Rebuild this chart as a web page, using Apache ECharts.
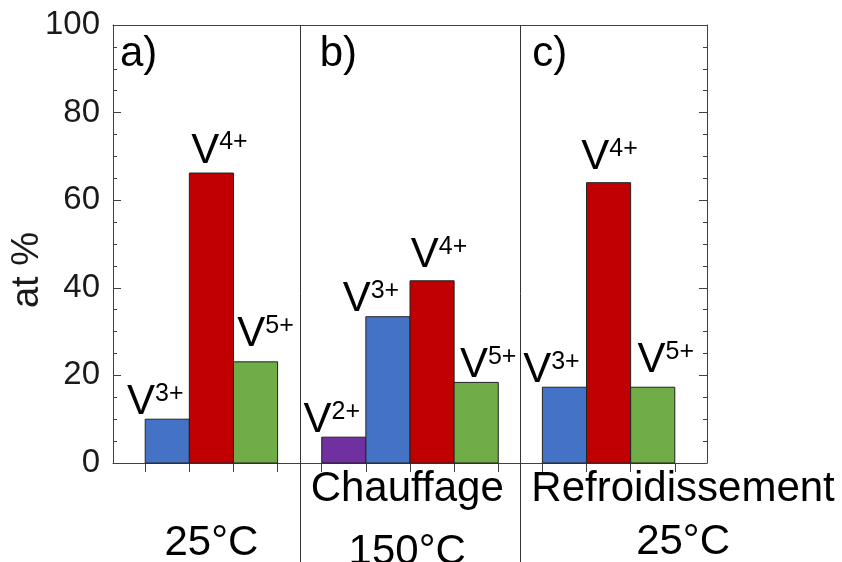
<!DOCTYPE html>
<html><head><meta charset="utf-8">
<script src="https://cdn.jsdelivr.net/npm/echarts@6/dist/echarts.min.js"></script>
<style>html,body{margin:0;padding:0;background:#fff}#c{width:842px;height:562px}</style>
</head><body><div id="c"></div>
<script>
// ---------- data ----------
const panelLetters = ['a)', 'b)', 'c)'];
const conditionNames = ['', 'Chauffage', 'Refroidissement'];
const temperatures = ['25°C', '150°C', '25°C'];
const ionsA = ['3+', '4+', '5+'];
const valuesA = [10.0, 66.2, 23.1];
const ionsB = ['2+', '3+', '4+', '5+'];
const valuesB = [5.9, 33.4, 41.6, 18.4];
const ionsC = ['3+', '4+', '5+'];
const valuesC = [17.3, 64.0, 17.3];
const yTickValues = [0, 20, 40, 60, 80, 100];
const yAxisTitle = 'at %';

// ---------- style ----------
const FONT = "'Liberation Sans', Arial, sans-serif";
const ionColors = {'2+': '#7030A0', '3+': '#4472C4', '4+': '#C00000', '5+': '#70AD47'};
const labelDxA = [-12, 8, 10], labelDyA = [2, 7, 12];
const labelDxB = [-12, -17, 7, 12], labelDyB = [2, 2, 10, 2];
const labelDxC = [-13, 1, 13], labelDyC = [2, 10, 12];
const letterDx = [7, 20, 12];

const panelIons = [ionsA, ionsB, ionsC];
const panelValues = [valuesA, valuesB, valuesC];
const panelDx = [labelDxA, labelDxB, labelDxC];
const panelDy = [labelDyA, labelDyB, labelDyC];

// build bar slots: one empty slot between panels
const bars = [];
const panelRanges = [];
let slot = 0;
panelIons.forEach((ions, p) => {
  const start = slot;
  ions.forEach((ion, i) => {
    bars.push({ x: slot + 0.5, v: panelValues[p][i], ion: ion, dx: panelDx[p][i], dy: panelDy[p][i] });
    slot += 1;
  });
  panelRanges.push([start, slot]);
  slot += 1;
});
const lastEdge = slot - 1;
const edgeTicks = [];
panelRanges.forEach(r => { for (let e = r[0]; e <= r[1]; e++) edgeTicks.push(e); });
const xPad = 0.73;

const chart = echarts.init(document.getElementById('c'), null, { renderer: 'canvas' });

function renderItem(params, api) {
  const b = bars[params.dataIndex];
  const tl = api.coord([api.value(0) - 0.5, api.value(1)]);
  const br = api.coord([api.value(0) + 0.5, 0]);
  const cx = (tl[0] + br[0]) / 2;
  return {
    type: 'group',
    children: [
      { type: 'rect', shape: { x: tl[0], y: tl[1], width: br[0] - tl[0], height: br[1] - tl[1] },
        style: { fill: ionColors[b.ion], stroke: '#222', lineWidth: 1 } },
      { type: 'text', x: cx + b.dx, y: tl[1] - b.dy + 6,
        style: {
          text: '{v|V}{s|' + b.ion + '}',
          align: 'center', verticalAlign: 'bottom',
          rich: {
            v: { fontSize: 42, fontFamily: FONT, fill: '#000', lineHeight: 42, verticalAlign: 'bottom' },
            s: { fontSize: 25, fontFamily: FONT, fill: '#000', lineHeight: 25, verticalAlign: 'top', padding: [0, 0, 28, 0] }
          }
        } }
    ]
  };
}

const axisLineStyle = { color: '#404040', width: 1 };
chart.setOption({
  animation: false,
  backgroundColor: '#fff',
  grid: { left: 113, right: 135, top: 25, bottom: 99, containLabel: false },
  xAxis: [
    { type: 'value', min: -xPad, max: lastEdge + xPad, position: 'bottom',
      axisLine: { show: true, onZero: false, lineStyle: axisLineStyle },
      axisTick: { show: true, inside: false, length: 9, customValues: edgeTicks, lineStyle: axisLineStyle },
      axisLabel: { show: false }, splitLine: { show: false } },
    { type: 'value', min: -xPad, max: lastEdge + xPad, position: 'top',
      axisLine: { show: true, onZero: false, lineStyle: axisLineStyle },
      axisTick: { show: false }, axisLabel: { show: false }, splitLine: { show: false } }
  ],
  yAxis: [
    { type: 'value', min: yTickValues[0], max: yTickValues[yTickValues.length - 1], interval: yTickValues[1] - yTickValues[0],
      position: 'left',
      axisLine: { show: true, onZero: false, lineStyle: axisLineStyle },
      axisTick: { show: true, inside: true, length: 8, lineStyle: axisLineStyle },
      minorTick: { show: true, splitNumber: 4, length: 4, lineStyle: axisLineStyle },
      axisLabel: { fontSize: 33, fontFamily: FONT, color: '#1a1a1a', margin: 13 },
      splitLine: { show: false }, minorSplitLine: { show: false } },
    { type: 'value', min: yTickValues[0], max: yTickValues[yTickValues.length - 1], interval: yTickValues[1] - yTickValues[0],
      position: 'right',
      axisLine: { show: true, onZero: false, lineStyle: axisLineStyle },
      axisTick: { show: true, inside: true, length: 8, lineStyle: axisLineStyle },
      minorTick: { show: true, splitNumber: 4, length: 4, lineStyle: axisLineStyle },
      axisLabel: { show: false }, splitLine: { show: false }, minorSplitLine: { show: false } }
  ],
  series: [{
    type: 'custom', renderItem: renderItem, clip: false,
    encode: { x: 0, y: 1 },
    data: bars.map(b => [b.x, b.v])
  }]
});

// annotations placed via the axes' scales
const toPx = (x, y) => chart.convertToPixel({ xAxisIndex: 0, yAxisIndex: 0 }, [x, y]);
const topY = toPx(0, 100)[1];
const botY = toPx(0, 0)[1];
const graphics = [];
// panel dividers (midway through the empty slot)
for (let p = 1; p < panelRanges.length; p++) {
  const xd = Math.round(toPx(panelRanges[p][0] - 0.5, 0)[0]) + 0.5;
  graphics.push({ type: 'line', shape: { x1: xd, y1: topY, x2: xd, y2: 562 }, style: { stroke: '#333', lineWidth: 1 }, z: 10 });
}
panelRanges.forEach((r, p) => {
  const leftEdge = p === 0 ? toPx(-xPad, 0)[0] : toPx(r[0] - 0.5, 0)[0];
  graphics.push({ type: 'text', x: leftEdge + letterDx[p], y: topY + 50, z: 10,
    style: { text: panelLetters[p], font: '42px ' + FONT, fill: '#000', align: 'left', verticalAlign: 'bottom' } });
  if (conditionNames[p]) {
    graphics.push({ type: 'text', x: leftEdge + 11, y: botY + 47, z: 10,
      style: { text: conditionNames[p], font: '42px ' + FONT, fill: '#000', align: 'left', verticalAlign: 'bottom' } });
  }
});
// temperature labels
const tempX = [toPx(1.5, 0)[0], null, null];
{
  const ctx = document.createElement('canvas').getContext('2d');
  ctx.font = '42px ' + FONT;
  for (let p = 1; p < panelRanges.length; p++) {
    const leftEdge = toPx(panelRanges[p][0] - 0.5, 0)[0];
    tempX[p] = leftEdge + 11 + ctx.measureText(conditionNames[p]).width / 2;
  }
}
const tempY = [botY + 101, botY + 110, botY + 100];
temperatures.forEach((t, p) => {
  graphics.push({ type: 'text', x: tempX[p], y: tempY[p], z: 10,
    style: { text: t, font: '42px ' + FONT, fill: '#000', align: 'center', verticalAlign: 'bottom' } });
});
// y-axis title
graphics.push({ type: 'text', x: 28, y: (topY + botY) / 2 + 26, rotation: Math.PI / 2, z: 10,
  style: { text: yAxisTitle, font: '38px ' + FONT, fill: '#1a1a1a', align: 'center', verticalAlign: 'middle' } });
chart.setOption({ graphic: graphics });
</script>
</body></html>
